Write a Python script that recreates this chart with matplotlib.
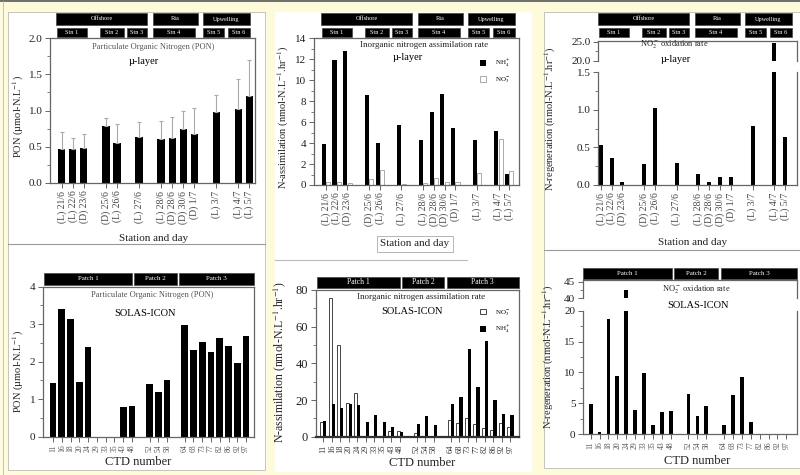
import matplotlib
matplotlib.use("Agg")
import matplotlib.pyplot as plt
from matplotlib.patches import Rectangle
from matplotlib.lines import Line2D
from matplotlib.ticker import MultipleLocator, FormatStrFormatter

plt.rcParams["font.family"] = ["Liberation Serif", "DejaVu Serif"]
plt.rcParams["mathtext.fontset"] = "stix"

# ---- data: micro-layer cruise (station and day) ----
station_labels = ["(L) 21/6", "(L) 22/6", "(D) 23/6", "(D) 25/6", "(L) 26/6", "(L) 27/6",
                  "(L) 28/6", "(D) 28/6", "(D) 30/6", "(D) 1/7", "(L) 3/7", "(L) 4/7", "(L) 5/7"]
station_slots = [0, 1, 2, 4, 5, 7, 9, 10, 11, 12, 14, 16, 17]

pon_mu = [0.47, 0.47, 0.48, 0.78, 0.55, 0.63, 0.61, 0.62, 0.75, 0.68, 0.98, 1.02, 1.20]
pon_mu_err = [0.23, 0.15, 0.19, 0.12, 0.26, 0.21, 0.25, 0.29, 0.25, 0.35, 0.23, 0.42, 0.49]

nh4_mu = [3.9, 11.9, 12.8, 8.6, 4.0, 5.7, 4.3, 7.0, 8.65, 5.4, 4.3, 5.15, 1.05]
no3_mu = [0.3, 0.3, 0.15, 0.6, 1.45, 0.1, 0.2, 0.7, 0.3, 0.3, 1.1, 4.35, 1.3]

nox_mu = [0.53, 0.36, 0.04, 0.28, 1.02, 0.29, 0.15, 0.04, 0.10, 0.10, 0.78, 24.7, 0.64]

# ---- data: SOLAS-ICON (CTD number) ----
ctd_labels = ["11", "16", "18", "20", "24", "29", "33", "35", "43", "48",
              "52", "54", "58", "64", "68", "73", "77", "82", "86", "92", "97"]
ctd_slots = [0, 1, 2, 3, 4, 5, 6, 7, 8, 9, 11, 12, 13, 15, 16, 17, 18, 19, 20, 21, 22]

pon_ctd = [1.42, 3.40, 3.13, 1.47, 2.40, 0, 0, 0, 0.80, 0.83,
           1.40, 1.20, 1.51, 2.98, 2.31, 2.53, 2.27, 2.62, 2.42, 1.96, 2.69]
no3_ctd = [8.0, 75.5, 50.0, 18.5, 24.0, 0, 0, 0, 3.3, 3.0,
           1.8, 0, 0, 9.1, 7.3, 10.4, 6.7, 4.5, 3.6, 7.3, 5.1]
nh4_ctd = [8.5, 18.0, 15.5, 17.8, 17.3, 8.2, 11.8, 8.2, 5.5, 2.4,
           6.7, 11.5, 6.4, 17.6, 21.8, 47.6, 27.3, 52.2, 20.0, 12.4, 11.8]
nox_ctd = [4.9, 0.27, 18.6, 9.4, 42.5, 3.9, 9.9, 1.5, 3.5, 3.7,
           6.5, 3.0, 4.5, 1.5, 6.3, 9.2, 1.9, 0, 0, 0, 0]

top_groups = [("Offshore", 0, 91), ("Ria", 97, 142), ("Upwelling", 147, 194)]
top_stations = [("Stn 1", 1, 31), ("Stn 2", 44, 68), ("Stn 3", 71, 91),
                ("Stn 4", 97, 139), ("Stn 5", 147, 168), ("Stn 6", 172, 194)]
patches = ["Patch 1", "Patch 2", "Patch 3"]

W, H = 800, 475
BG = "#fdfbd9"
SPINE = "#666666"
TXT = "#222222"

fig = plt.figure(figsize=(W / 100, H / 100), dpi=100)
fig.patch.set_facecolor(BG)


def add_ax(x0, y0, x1, y1):
    return fig.add_axes([x0 / W, 1 - y1 / H, (x1 - x0) / W, (y1 - y0) / H])


def fig_rect(x0, y0, x1, y1, zorder=-5, **kw):
    fig.patches.append(Rectangle((x0 / W, 1 - y1 / H), (x1 - x0) / W, (y1 - y0) / H,
                                 transform=fig.transFigure, zorder=zorder, **kw))


def fig_line(x0, y0, x1, y1, **kw):
    fig.lines.append(Line2D([x0 / W, x1 / W], [1 - y0 / H, 1 - y1 / H],
                            transform=fig.transFigure, zorder=-4, **kw))


def fig_text(x, y, s, **kw):
    kw.setdefault("ha", "center")
    kw.setdefault("va", "center")
    kw.setdefault("color", TXT)
    return fig.text(x / W, 1 - y / H, s, **kw)


def style(ax, major, minor, labelsize=8):
    ax.set_facecolor("white")
    for sp in ax.spines.values():
        sp.set_color(SPINE)
        sp.set_linewidth(0.9)
    ax.yaxis.set_major_locator(MultipleLocator(major))
    ax.yaxis.set_minor_locator(MultipleLocator(minor))
    ax.tick_params(axis="both", which="major", direction="out", length=3.5, width=0.7,
                   color=SPINE, labelcolor=TXT, labelsize=labelsize, pad=2)
    ax.tick_params(axis="y", which="minor", direction="out", length=2, width=0.6, color=SPINE)


def header_box(x0, x1, y0, y1, label, fs=4.5):
    fig_rect(x0, y0, x1, y1, zorder=2, facecolor="black", edgecolor="#444444", lw=0.5)
    fig_text((x0 + x1) / 2, (y0 + y1) / 2, label, color="white", fontsize=fs)


def station_headers(origin):
    for name, a, b in top_groups:
        header_box(origin + a, origin + b, 13, 25, name)
    for name, a, b in top_stations:
        header_box(origin + a, origin + b, 28, 37, name)


# ---- panel backgrounds ----
fig_line(0, 1, 800, 1, color="#555555", lw=1.2)
fig_line(3, 1, 3, 475, color="#bbbbbb", lw=0.6)
fig_rect(8, 12, 265, 470, facecolor="white", edgecolor="#bbbbbb", lw=0.6)
fig_rect(275, 12, 532, 472, facecolor="white", edgecolor="none")
fig_rect(544, 12, 800, 468, facecolor="white", edgecolor="#bbbbbb", lw=0.6)
fig_line(8, 244, 265, 244, color="#999999", lw=0.8)
fig_line(275, 260, 467, 260, color="#bbbbbb", lw=0.8)
fig_line(544, 250, 800, 250, color="#999999", lw=0.8)

ylab_nreg = r"N-regeneration (nmol-N.L$^{-1}$.hr$^{-1}$)"
ylab_nass = r"N-assimilation (nmol-N.L$^{-1}$.hr$^{-1}$)"
ylab_pon = "PON (µmol-N.L$^{-1}$)"

# ---- panel 1: PON micro-layer ----
ax1 = add_ax(50, 38, 255, 183)
ax1.bar(station_slots, pon_mu, width=0.66, color="black",
        yerr=[[0] * len(pon_mu_err), pon_mu_err],
        error_kw=dict(ecolor="#aaaaaa", elinewidth=0.8, capsize=1.5, capthick=0.8))
ax1.set_xlim(-1.06, 17.5)
ax1.set_ylim(0, 2.0)
style(ax1, 0.5, 0.25)
ax1.yaxis.set_major_formatter(FormatStrFormatter("%.1f"))
ax1.set_xticks(station_slots)
ax1.set_xticklabels(station_labels, rotation=90, fontsize=7, color="#444444")
station_headers(56)
fig_text(152.7, 47, "Particulate Organic Nitrogen (PON)", fontsize=6, color="#555555")
fig_text(144, 61, "µ-layer", fontsize=7.5, color="black")
fig_text(18, 117, ylab_pon, rotation=90, fontsize=7.5)
fig_text(154, 238, "Station and day", fontsize=8)

# ---- panel 2: N assimilation micro-layer ----
ax2 = add_ax(314, 38.3, 519, 185)
ax2.bar([p - 0.2 for p in station_slots], nh4_mu, width=0.38, color="black",
        label=r"NH$_4^+$")
ax2.bar([p + 0.2 for p in station_slots], no3_mu, width=0.38, facecolor="white",
        edgecolor="#aaaaaa", lw=0.7, label=r"NO$_3^-$")
ax2.set_xlim(-1.1, 17.9)
ax2.set_ylim(0, 14)
style(ax2, 2, 1)
ax2.set_xticks(station_slots)
ax2.set_xticklabels(station_labels, rotation=90, fontsize=7, color="#444444")
ax2.legend(loc="upper right", bbox_to_anchor=(0.99, 0.91), frameon=False, fontsize=5,
           handlelength=0.9, handleheight=0.9, labelspacing=0.9, handletextpad=1.2)
station_headers(321)
fig_text(424, 45, "Inorganic nitrogen assimilation rate", fontsize=6.5)
fig_text(408, 57, "µ-layer", fontsize=7.5, color="black")
fig_text(283, 117, ylab_nass, rotation=90, fontsize=7.5)
fig_text(415, 244, "Station and day", fontsize=8,
         bbox=dict(boxstyle="square,pad=0.35", facecolor="white", edgecolor="#aaaaaa", lw=0.6))

# ---- panel 3: NO2- oxidation micro-layer (broken axis) ----
ax3u = add_ax(598, 40.7, 797, 60.7)
ax3 = add_ax(598, 72.3, 797, 185)
for ax in (ax3u, ax3):
    ax.bar(station_slots, nox_mu, width=0.37, color="black")
    ax.set_xlim(-0.25, 18.1)
ax3u.set_ylim(20, 25.26)
ax3.set_ylim(0, 1.5)
style(ax3u, 5, 2.5)
style(ax3, 0.5, 0.25)
for ax in (ax3u, ax3):
    ax.yaxis.set_major_formatter(FormatStrFormatter("%.1f"))
ax3u.spines["bottom"].set_visible(False)
ax3u.set_xticks([])
ax3.spines["top"].set_visible(False)
ax3.set_xticks(station_slots)
ax3.set_xticklabels(station_labels, rotation=90, fontsize=7, color="#444444")
station_headers(598)
fig_text(674, 45, r"NO$_2^-$ oxidation rate", fontsize=6)
fig_text(676, 60, "µ-layer", fontsize=7.5, color="black")
fig_text(550, 119, ylab_nreg, rotation=90, fontsize=7.5)
fig_text(693, 243, "Station and day", fontsize=8)

# ---- panel 4: PON SOLAS-ICON ----
ax4 = add_ax(43, 286.7, 254, 436.7)
ax4.bar(ctd_slots, pon_ctd, width=0.75, color="black")
ax4.set_xlim(-1.14, 22.9)
ax4.set_ylim(0, 4)
style(ax4, 1, 0.5)
ax4.set_xticks(ctd_slots)
ax4.set_xticklabels(ctd_labels, rotation=90, fontsize=5.5, color="#555555")
for name, a, b in zip(patches, [44, 134, 179], [132, 177, 254]):
    header_box(a, b, 273, 285, name, fs=5)
fig_text(152, 295, "Particulate Organic Nitrogen (PON)", fontsize=6, color="#555555")
fig_text(145, 313, "SOLAS-ICON", fontsize=7.5, color="black")
fig_text(18, 372, ylab_pon, rotation=90, fontsize=7.5)
fig_text(138, 462, "CTD number", fontsize=9)

# ---- panel 5: N assimilation SOLAS-ICON ----
ax5 = add_ax(315.7, 290, 519, 436.7)
ax5.bar([p - 0.18 for p in ctd_slots], no3_ctd, width=0.36, facecolor="white",
        edgecolor="#444444", lw=0.7, label=r"NO$_3^-$")
ax5.bar([p + 0.18 for p in ctd_slots], nh4_ctd, width=0.36, color="black",
        label=r"NH$_4^+$")
ax5.set_xlim(-0.9, 23.0)
ax5.set_ylim(0, 80)
style(ax5, 20, 10, labelsize=9)
ax5.spines["bottom"].set_linewidth(1.6)
ax5.spines["bottom"].set_color("#333333")
ax5.set_xticks(ctd_slots)
ax5.set_xticklabels(ctd_labels, rotation=90, fontsize=6, color="#333333")
ax5.legend(loc="upper right", bbox_to_anchor=(0.99, 0.92), frameon=False, fontsize=5,
           handlelength=0.9, handleheight=0.9, labelspacing=0.9, handletextpad=1.2)
for name, a, b in zip(patches, [316.7, 401.7, 446.7], [400, 444.3, 519]):
    header_box(a, b, 276.7, 288.3, name, fs=5.5)
fig_text(421, 297, "Inorganic nitrogen assimilation rate", fontsize=6.5)
fig_text(412, 311, "SOLAS-ICON", fontsize=7.5, color="black")
fig_text(280, 362, ylab_nass, rotation=90, fontsize=8.5)
fig_text(422, 463, "CTD number", fontsize=9)

# ---- panel 6: NO2- oxidation SOLAS-ICON (broken axis) ----
ax6u = add_ax(583, 280, 797, 298.3)
ax6 = add_ax(583, 310.7, 797, 434)
for ax in (ax6u, ax6):
    ax.bar(ctd_slots, nox_ctd, width=0.42, color="black")
    ax.set_xlim(-0.86, 23.2)
ax6u.set_ylim(40, 45.5)
ax6.set_ylim(0, 20)
style(ax6u, 5, 2.5)
style(ax6, 5, 2.5)
ax6u.spines["bottom"].set_visible(False)
ax6u.set_xticks([])
ax6.spines["top"].set_visible(False)
ax6.set_xticks(ctd_slots)
ax6.set_xticklabels(ctd_labels, rotation=90, fontsize=5.5, color="#555555")
for name, a, b in zip(patches, [583, 674, 721], [672, 718, 797]):
    header_box(a, b, 268, 279, name, fs=5)
fig_text(696, 290, r"NO$_2^-$ oxidation rate", fontsize=6)
fig_text(698, 305, "SOLAS-ICON", fontsize=7.5, color="black")
fig_text(548, 357, ylab_nreg, rotation=90, fontsize=7.5)
fig_text(697, 461, "CTD number", fontsize=9)

fig.savefig("out.png", dpi=100, facecolor=BG)
